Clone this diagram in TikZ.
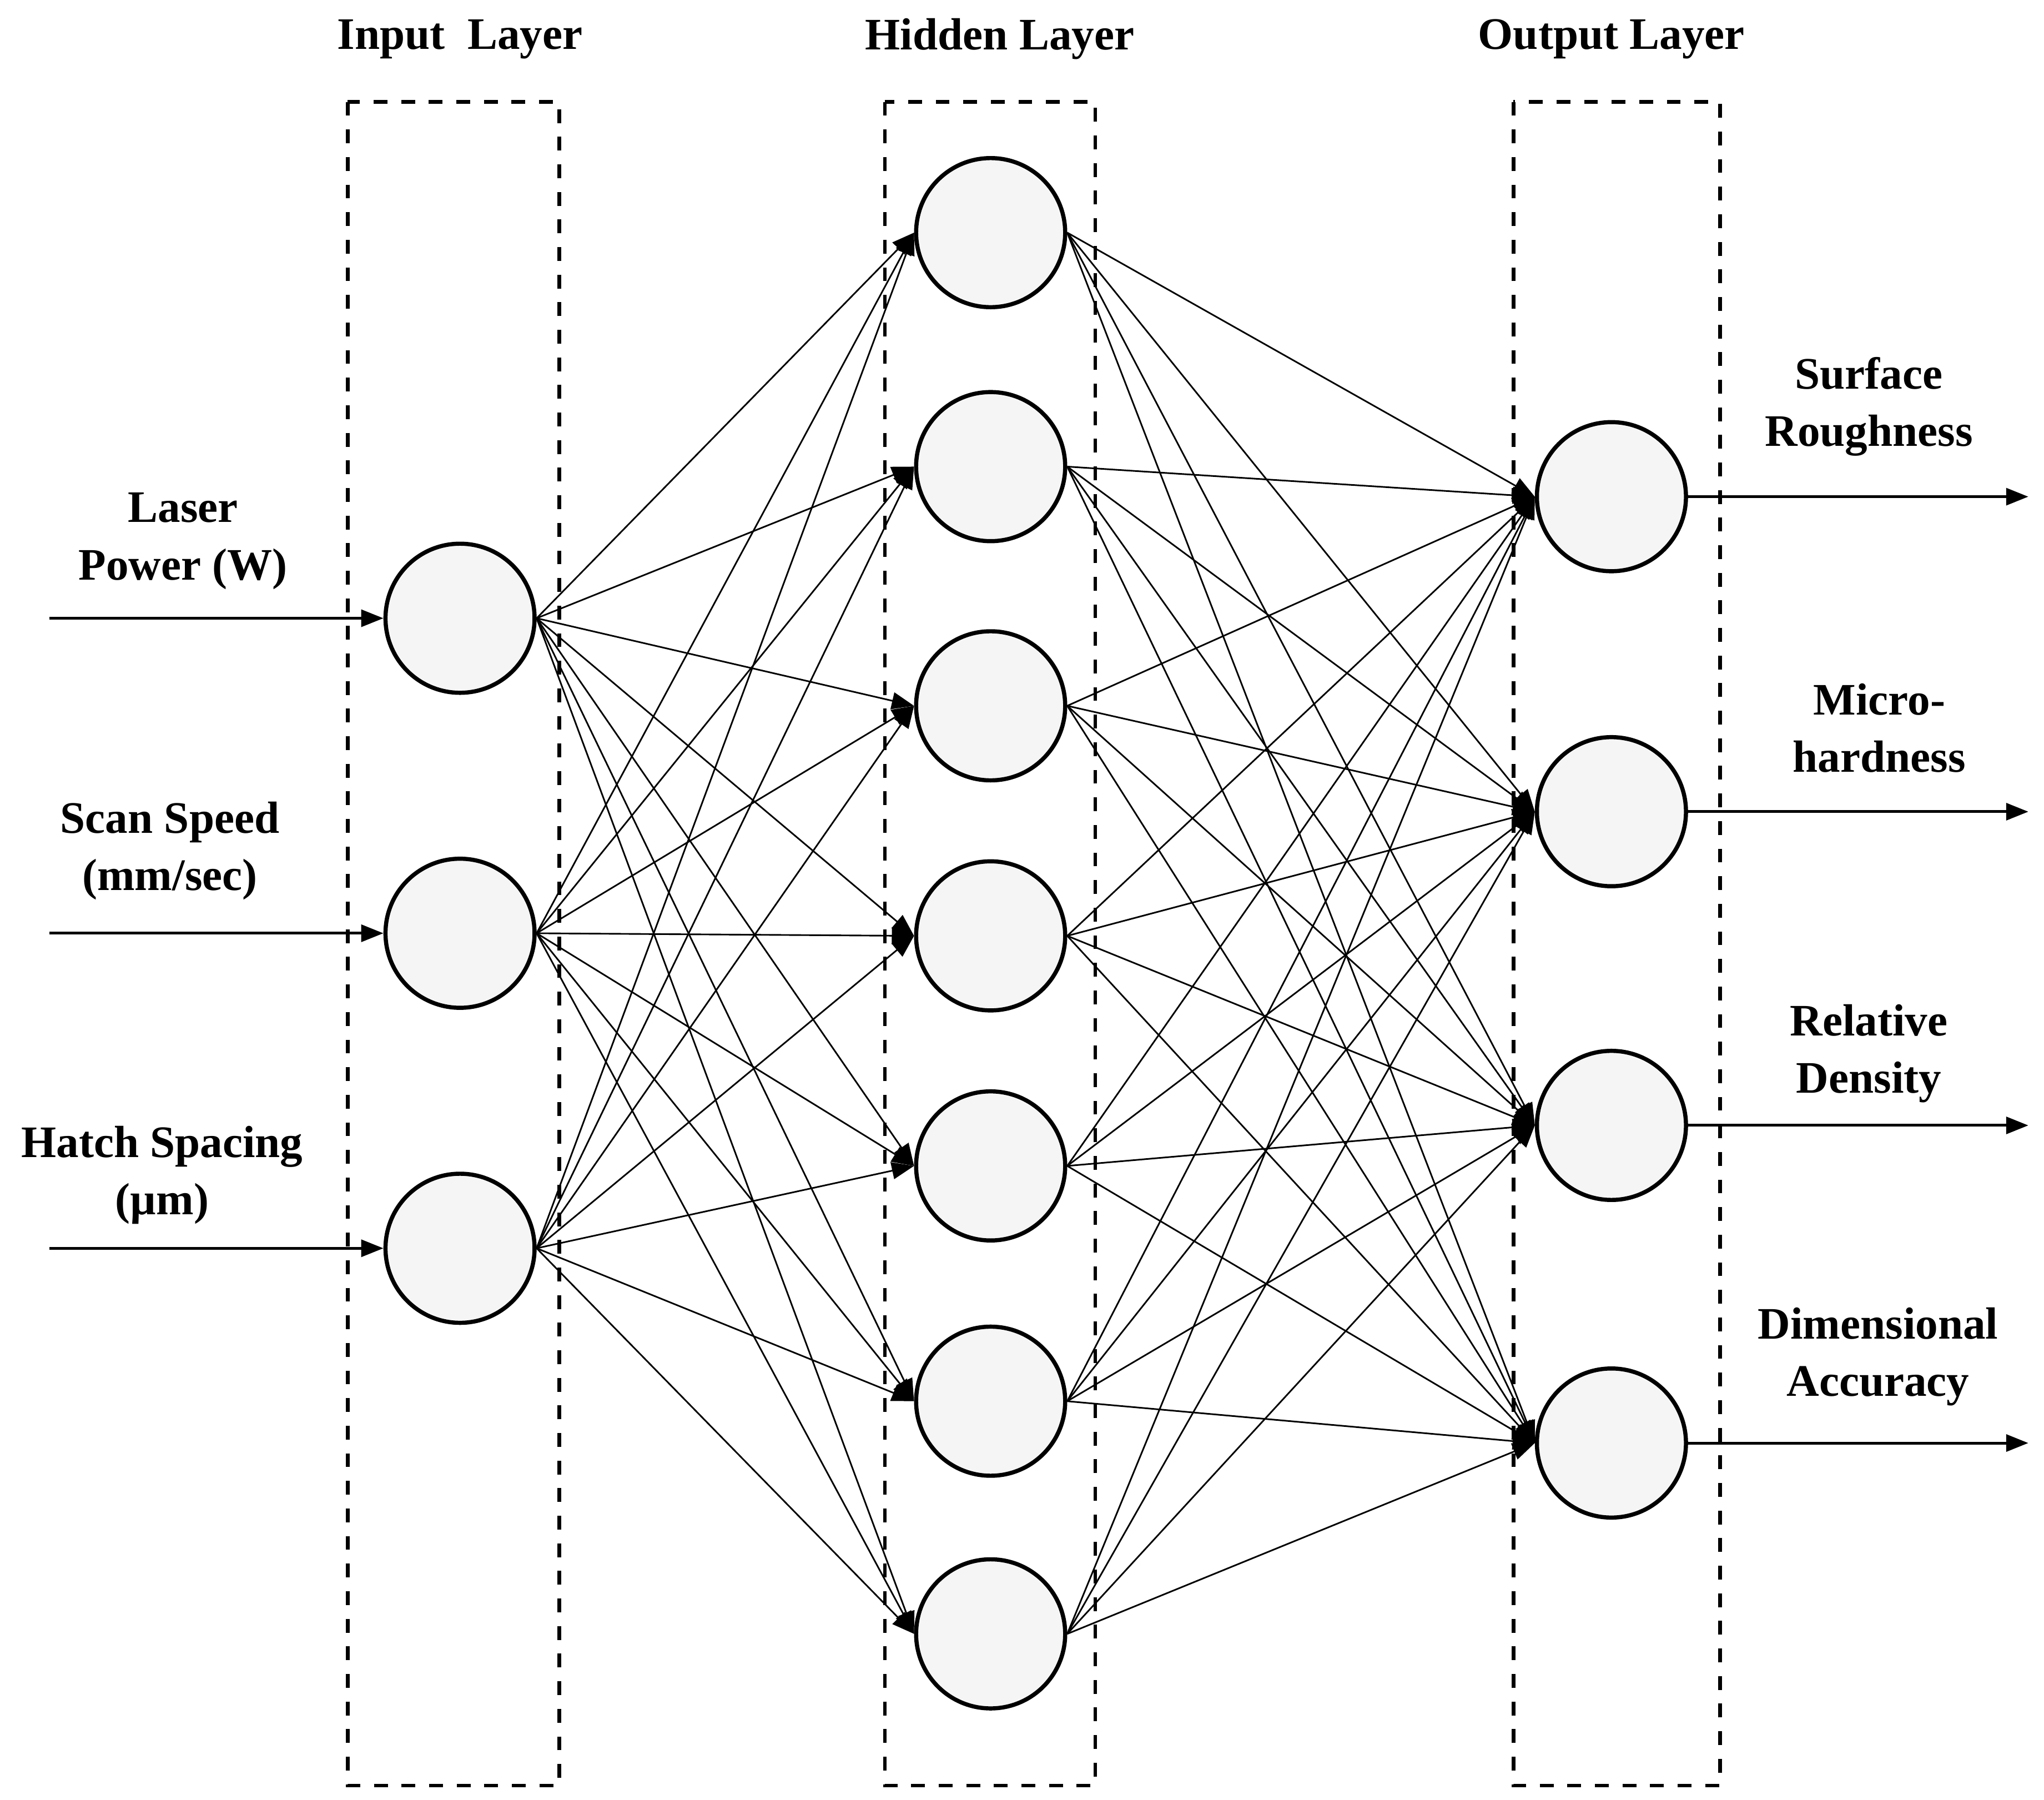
\documentclass[tikz,border=0pt]{standalone}
\usepackage{fontspec}
\setmainfont{Liberation Serif}
\usetikzlibrary{arrows.meta}
\begin{document}
\begin{tikzpicture}[x=0.01cm,y=-0.01cm,
  neuron/.style={circle,draw,line width=0.9pt,fill=gray!8,minimum size=1.14cm,inner sep=0pt},
  box/.style={draw,dashed,line width=0.8pt},
  lbl/.style={font=\bfseries\fontsize{9.8}{12.5}\selectfont,align=center},
  conn/.style={line width=0.35pt,-{Triangle[length=0.17cm,width=0.13cm]}},
  io/.style={line width=0.6pt,-{Triangle[length=0.17cm,width=0.13cm]}}]
\useasboundingbox (0,0) rectangle (1564,1377);
\draw[box] (266,78) rectangle (428,1366);
\draw[box] (677,78) rectangle (838,1366);
\draw[box] (1158,78) rectangle (1316,1366);
\node[lbl] (t1) at (352,30) {Input\ \ Layer};
\node[lbl] (t2) at (765,30) {Hidden Layer};
\node[lbl] (t3) at (1233,30) {Output Layer};
\foreach \i/\y in {1/473,2/714,3/955} \node[neuron] (i\i) at (352,\y) {};
\foreach \i/\y in {1/178,2/357,3/540,4/716,5/892,6/1072,7/1250} \node[neuron] (h\i) at (758,\y) {};
\foreach \i/\y in {1/380,2/621,3/861,4/1104} \node[neuron] (o\i) at (1233,\y) {};
\foreach \i in {1,2,3} \foreach \j in {1,...,7} \draw[conn] (i\i.east) -- (h\j.west);
\foreach \i in {1,...,7} \foreach \j in {1,2,3,4} \draw[conn] (h\i.east) -- (o\j.west);
\foreach \i/\y in {1/473,2/714,3/955} {\coordinate (s\i) at (38,\y); \draw[io] (s\i) -- (i\i.west);}
\foreach \i/\y in {1/380,2/621,3/861,4/1104} {\coordinate (e\i) at (1552,\y); \draw[io] (o\i.east) -- (e\i);}
\node[lbl] (l1) at (140,414) {Laser\\Power (W)};
\node[lbl] (l2) at (130,651) {Scan Speed\\(mm/sec)};
\node[lbl] (l3) at (124,899) {Hatch Spacing\\(µm)};
\node[lbl] (r1) at (1430,311) {Surface\\Roughness};
\node[lbl] (r2) at (1438,557) {Micro-\\hardness};
\node[lbl] (r3) at (1430,806) {Relative\\Density};
\node[lbl] (r4) at (1437,1038) {Dimensional\\Accuracy};
\end{tikzpicture}
\end{document}
